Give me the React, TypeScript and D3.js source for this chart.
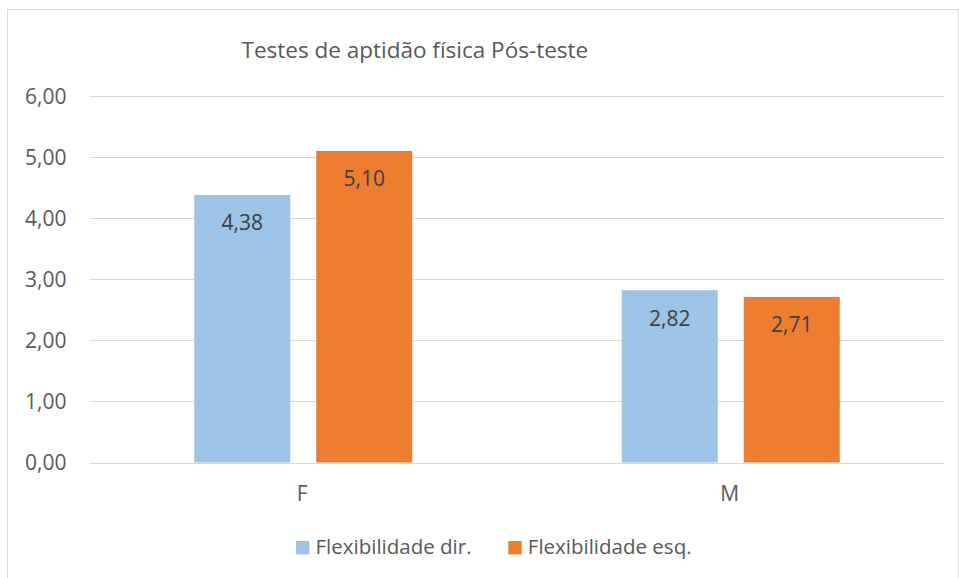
import React from "react";
import * as d3 from "d3";

const categories = ["F", "M"];
const seriesNames = ["Flexibilidade dir.", "Flexibilidade esq."];
const dirValues = [4.38, 2.82];
const esqValues = [5.1, 2.71];
const yTicks = [0, 1, 2, 3, 4, 5, 6];
const title = "Testes de aptidão física Pós-teste";
const colors = ["#9DC3E6", "#ED7D31"];

const W = 959;
const H = 578;
const FONT = "'Open Sans', 'Liberation Sans', sans-serif";

const fmt = (v: number) => v.toFixed(2).replace(".", ",");

export default function App() {
  const plotLeft = 89.5;
  const plotRight = 944.5;
  const y = d3.scaleLinear().domain([0, 6]).range([462.5, 96]);
  const x0 = d3.scaleBand<string>().domain(categories).range([plotLeft, plotRight]).padding(0);
  const groupW = 218;
  const x1 = d3.scaleBand<string>().domain(seriesNames).range([0, groupW]).paddingInner(2 - groupW / 122).paddingOuter(0);
  const seriesValues = [dirValues, esqValues];

  return (
    <svg width={W} height={H} style={{ position: "absolute", left: 0, top: 0, background: "#fff" }} fontFamily={FONT}>
      <rect x={0} y={0} width={W} height={H} fill="#fff" />
      <rect x={7.5} y={9.5} width={951} height={600} fill="#fff" stroke="#D9D9D9" strokeWidth={1} />
      <text x={241.5} y={58} fontSize={22.5} fill="#595959">{title}</text>
      {yTicks.map((t) => (
        <g key={t}>
          <line x1={plotLeft} x2={plotRight} y1={Math.round(y(t)) + 0.5} y2={Math.round(y(t)) + 0.5} stroke="#D9D9D9" strokeWidth={1} />
          <text x={66.5} y={y(t) + 7.5} textAnchor="end" fontSize={21} fill="#595959">{fmt(t)}</text>
        </g>
      ))}
      {categories.map((c, ci) => {
        const gx = (x0(c) as number) + (x0.bandwidth() - groupW) / 2;
        return (
          <g key={c}>
            {seriesNames.map((s, si) => {
              const v = seriesValues[si][ci];
              const bx = gx + (x1(s) as number);
              return (
                <g key={s}>
                  <rect x={bx} y={y(v)} width={x1.bandwidth()} height={y(0) - y(v)} fill={colors[si]} />
                  <text x={bx + x1.bandwidth() / 2} y={y(v) + 35.5} textAnchor="middle" fontSize={21} fill="#404040">{fmt(v)}</text>
                </g>
              );
            })}
            <text x={(x0(c) as number) + x0.bandwidth() / 2 - 1} y={501} textAnchor="middle" fontSize={21} fill="#595959">{c}</text>
          </g>
        );
      })}
      {seriesNames.map((s, si) => {
        const sx = [296, 508.3][si];
        return (
          <g key={s}>
            <rect x={sx} y={541} width={13.4} height={13.4} fill={colors[si]} />
            <text x={sx + 19.5} y={554.3} fontSize={20.5} fill="#595959">{s}</text>
          </g>
        );
      })}
    </svg>
  );
}
